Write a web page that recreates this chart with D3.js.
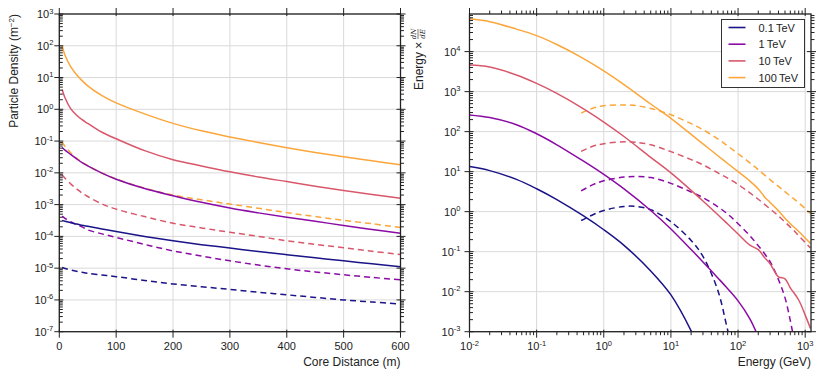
<!DOCTYPE html>
<html>
<head>
<meta charset="utf-8">
<script src="https://cdn.jsdelivr.net/npm/d3@7"></script>
<style>
  body { margin: 0; background: #fff; }
  svg { font-family: "Liberation Sans", Arial, sans-serif; }
  .grid line { stroke: #d9d9d9; stroke-width: 1; }
  .spine { stroke: #222; stroke-width: 1.3; fill: none; }
  .tick { stroke: #222; stroke-width: 1; }
</style>
</head>
<body>
<svg id="chart" width="822" height="379"></svg>
<script>
// series labels + colours
const energies = ["0.1\u2009TeV", "1\u2009TeV", "10\u2009TeV", "100\u2009TeV"];
const colors = ["#1b1388", "#8b0ba5", "#d9576b", "#fca63a"];

// ---- left panel: lateral distribution ----
const distance = [5, 10, 20, 30, 40, 50, 75, 100, 150, 200, 250, 300, 350, 400, 450, 500, 550, 600];

// solid lines
const densSolid01 = [3.2e-4, 3.0e-4, 2.7e-4, 2.45e-4, 2.25e-4, 2.07e-4, 1.72e-4, 1.42e-4, 1.0e-4, 7.3e-5, 5.5e-5, 4.3e-5, 3.35e-5, 2.65e-5, 2.12e-5, 1.7e-5, 1.37e-5, 1.1e-5];
const densSolid1 = [0.063, 0.052, 0.038, 0.028, 0.021, 0.0165, 0.0098, 0.0063, 0.0032, 0.0019, 0.00118, 0.00078, 0.00055, 0.0004, 0.0003, 0.00022, 0.000165, 0.000125];
const densSolid10 = [4.2, 2.3, 1.05, 0.66, 0.47, 0.36, 0.19, 0.118, 0.05, 0.026, 0.0165, 0.0108, 0.0074, 0.0053, 0.0038, 0.0028, 0.0021, 0.0016];
const densSolid100 = [100, 50, 22, 12.5, 8.0, 5.5, 2.7, 1.6, 0.72, 0.36, 0.21, 0.135, 0.09, 0.062, 0.044, 0.032, 0.024, 0.018];

// dashed lines
const densDash01 = [1.05e-5, 9.8e-6, 8.8e-6, 8.0e-6, 7.4e-6, 6.9e-6, 6.1e-6, 5.4e-6, 4.1e-6, 3.2e-6, 2.6e-6, 2.15e-6, 1.75e-6, 1.45e-6, 1.2e-6, 1.0e-6, 8.6e-7, 7.4e-7];
const densDash1 = [4.4e-4, 3.7e-4, 2.9e-4, 2.35e-4, 2.0e-4, 1.6e-4, 1.2e-4, 9.3e-5, 5.6e-5, 3.5e-5, 2.4e-5, 1.7e-5, 1.25e-5, 9.5e-6, 7.6e-6, 6.2e-6, 5.1e-6, 4.3e-6];
const densDash10 = [0.0085, 0.0068, 0.0045, 0.0032, 0.0023, 0.0018, 0.00105, 0.00072, 0.00042, 0.00026, 0.000185, 0.000135, 0.0001, 0.000073, 0.000056, 0.000044, 0.000034, 0.000027];
const densDash100 = [0.095, 0.068, 0.043, 0.029, 0.0215, 0.0168, 0.0099, 0.0064, 0.0033, 0.002, 0.00142, 0.00104, 0.00077, 0.00056, 0.00042, 0.00032, 0.00025, 0.00019];

// ---- right panel: energy spectra ----
const energySolid = [0.01, 0.02, 0.05, 0.1, 0.2, 0.5, 1, 2, 5, 10, 20, 30, 50, 70, 100, 150, 200, 250, 300, 400, 500, 600, 800, 1000, 1200];
const specSolid01 = [13.4, 10.6, 6.4, 3.74, 2.0, 0.78, 0.353, 0.144, 0.033, 0.0083, 0.00105, 0.00022, null, null, null, null, null, null, null, null, null, null, null, null, null];
const specSolid1 = [262, 225, 149, 88.5, 46.9, 18.2, 8.5, 3.7, 1.07, 0.37, 0.113, 0.0555, 0.0221, 0.0119, 0.0059, 0.0021, 0.00075, 0.00031, null, null, null, null, null, null, null];
const specSolid10 = [4600, 4100, 2600, 1600, 900, 370, 173, 75.5, 22.8, 9.3, 3.41, 1.85, 0.84, 0.49, 0.276, 0.145, 0.112, 0.07, 0.05, 0.0235, 0.021, 0.0125, 0.0062, 0.0026, 0.0012];
const specSolid100 = [66000, 56000, 36500, 25000, 15000, 6700, 3300, 1500, 490, 215, 85, 49.5, 25, 16, 10, 5.8, 3.7, 2.3, 1.7, 1.05, 0.68, 0.5, 0.32, 0.22, 0.16];

const energyDash = [0.46, 0.7, 1, 2, 3, 5, 10, 20, 30, 50, 70, 100, 150, 200, 300, 400, 500, 600, 700, 800, 1000, 1200];
const specDash01 = [0.6, 0.85, 1.07, 1.35, 1.35, 1.12, 0.56, 0.19, 0.076, 0.0107, 0.0011, 0.0001, null, null, null, null, null, null, null, null, null, null];
const specDash1 = [3.3, 4.8, 5.9, 7.3, 7.6, 7.1, 5.1, 3.1, 2.24, 1.32, 0.87, 0.5, 0.25, 0.141, 0.056, 0.02, 0.0071, 0.0019, 0.0005, null, null, null];
const specDash10 = [32, 43.6, 50, 56, 54.3, 46.8, 31.6, 20, 14.8, 9.3, 6.9, 4.8, 2.95, 2.04, 1.17, 0.78, 0.55, 0.41, 0.32, 0.25, 0.17, 0.123];
const specDash100 = [290, 390, 442, 465, 447, 380, 263, 158, 112, 66, 44, 28, 16.6, 11.2, 6.3, 4.27, 3.16, 2.45, 2.0, 1.66, 1.2, 0.89];

const svg = d3.select("#chart");
const plotTop = 14, plotBottom = 331.7;

// superscript helper for "10^n" style labels
function powLabel(sel, e) {
  sel.append("tspan").text("10");
  sel.append("tspan").attr("dy", -4.5).attr("font-size", 7.5).text(e < 0 ? "-" + (-e) : e);
}

function logMinors(lo, hi) {
  const out = [];
  for (let p = Math.floor(Math.log10(lo)); p <= Math.ceil(Math.log10(hi)); p++) {
    for (let k = 2; k <= 9; k++) {
      const v = k * Math.pow(10, p);
      if (v > lo && v < hi) out.push(v);
    }
  }
  return out;
}

function drawPanel(o) {
  const g = svg.append("g");
  const [x0, x1] = o.x.range();
  const clipId = "clip" + o.id;
  svg.append("clipPath").attr("id", clipId)
    .append("rect").attr("x", x0).attr("y", plotTop).attr("width", x1 - x0).attr("height", plotBottom - plotTop);

  // grid
  const grid = g.append("g").attr("class", "grid");
  grid.selectAll(".gx").data(o.xMajor).join("line")
    .attr("x1", d => o.x(d)).attr("x2", d => o.x(d)).attr("y1", plotTop).attr("y2", plotBottom);
  grid.selectAll(".gy").data(o.yMajor).join("line")
    .attr("y1", d => o.y(d)).attr("y2", d => o.y(d)).attr("x1", x0).attr("x2", x1);

  // lines
  const lines = g.append("g").attr("clip-path", `url(#${clipId})`);
  o.series.forEach(s => {
    const pts = s.xs.map((xv, i) => [xv, s.ys[i]]);
    const line = d3.line()
      .defined(d => d[1] != null)
      .x(d => o.x(d[0])).y(d => o.y(d[1]))
      .curve(d3.curveCatmullRom.alpha(0.5));
    lines.append("path")
      .attr("d", line(pts))
      .attr("fill", "none")
      .attr("stroke", s.color)
      .attr("stroke-width", 1.5)
      .attr("stroke-dasharray", s.dash ? "6,4" : null);
  });

  // spines
  g.append("rect").attr("class", "spine")
    .attr("x", x0).attr("y", plotTop).attr("width", x1 - x0).attr("height", plotBottom - plotTop);

  // ticks
  const t = g.append("g");
  o.xMajor.forEach(d => {
    const px = o.x(d);
    t.append("line").attr("class", "tick").attr("x1", px).attr("x2", px).attr("y1", plotTop - 6).attr("y2", plotTop + 2);
    t.append("line").attr("class", "tick").attr("x1", px).attr("x2", px).attr("y1", plotBottom - 2).attr("y2", plotBottom + 6);
  });
  o.xMinor.forEach(d => {
    const px = o.x(d);
    t.append("line").attr("class", "tick").attr("x1", px).attr("x2", px).attr("y1", plotTop - 3.5).attr("y2", plotTop);
    t.append("line").attr("class", "tick").attr("x1", px).attr("x2", px).attr("y1", plotBottom).attr("y2", plotBottom + 3.5);
  });
  o.yMajor.forEach(d => {
    const py = o.y(d);
    t.append("line").attr("class", "tick").attr("x1", x0 - 5).attr("x2", x0 + 4).attr("y1", py).attr("y2", py);
    t.append("line").attr("class", "tick").attr("x1", x1 - 4).attr("x2", x1 + 5).attr("y1", py).attr("y2", py);
  });
  o.yMinor.forEach(d => {
    const py = o.y(d);
    t.append("line").attr("class", "tick").attr("x1", x0).attr("x2", x0 + 3.5).attr("y1", py).attr("y2", py);
    t.append("line").attr("class", "tick").attr("x1", x1).attr("x2", x1 + 3.5).attr("y1", py).attr("y2", py);
  });

  // tick labels
  o.xMajor.forEach(d => {
    const tx = g.append("text").attr("x", o.x(d)).attr("y", 350)
      .attr("text-anchor", "middle").attr("font-size", 11).attr("fill", "#222");
    if (o.xLog) powLabel(tx, Math.round(Math.log10(d)));
    else tx.text(d);
  });
  o.yMajor.forEach(d => {
    const ty = g.append("text").attr("x", x0 - o.yLabelGap).attr("y", o.y(d) + 4)
      .attr("text-anchor", "end").attr("font-size", 11).attr("fill", "#222");
    powLabel(ty, Math.round(Math.log10(d)));
  });

  // x title
  g.append("text").attr("x", x1).attr("y", 366).attr("text-anchor", "end")
    .attr("font-size", 12).attr("fill", "#222").text(o.xTitle);
  return g;
}

// left scales
const xL = d3.scaleLinear().domain([0, 600]).range([59.3, 400.5]);
const yL = d3.scaleLog().domain([1e-7, 1e3]).range([plotBottom, plotTop]);
const solidL = [densSolid01, densSolid1, densSolid10, densSolid100];
const dashL = [densDash01, densDash1, densDash10, densDash100];

drawPanel({
  id: "L", x: xL, y: yL, xLog: false,
  xMajor: d3.range(0, 601, 100), xMinor: [],
  yMajor: d3.range(-7, 4).map(p => Math.pow(10, p)),
  yMinor: logMinors(1e-7, 1e3),
  yLabelGap: 6,
  xTitle: "Core Distance (m)",
  series: [
    ...dashL.map((ys, i) => ({ xs: distance, ys, color: colors[i], dash: true })),
    ...solidL.map((ys, i) => ({ xs: distance, ys, color: colors[i], dash: false }))
  ]
});

// right scales
const xR = d3.scaleLog().domain([0.01, 1220]).range([469.5, 811]);
const yR = d3.scaleLog().domain([1e-3, 8.7e4]).range([plotBottom, plotTop]);
const solidR = [specSolid01, specSolid1, specSolid10, specSolid100];
const dashR = [specDash01, specDash1, specDash10, specDash100];

drawPanel({
  id: "R", x: xR, y: yR, xLog: true,
  xMajor: d3.range(-2, 4).map(p => Math.pow(10, p)),
  xMinor: logMinors(0.01, 1220),
  yMajor: d3.range(-3, 5).map(p => Math.pow(10, p)),
  yMinor: logMinors(1e-3, 8.7e4),
  yLabelGap: 9,
  xTitle: "Energy (GeV)",
  series: [
    ...dashR.map((ys, i) => ({ xs: energyDash, ys, color: colors[i], dash: true })),
    ...solidR.map((ys, i) => ({ xs: energySolid, ys, color: colors[i], dash: false }))
  ]
});

// y titles
const yt = svg.append("text").attr("transform", "translate(18,14) rotate(-90)")
  .attr("text-anchor", "end").attr("font-size", 12).attr("fill", "#222");
yt.append("tspan").text("Particle Density (m");
yt.append("tspan").attr("dy", -4.5).attr("font-size", 8).text("\u22122");
yt.append("tspan").attr("dy", 4.5).text(")");

const yt2 = svg.append("g").attr("transform", "translate(423,90) rotate(-90)");
yt2.append("text").attr("x", 0).attr("y", 0).attr("font-size", 12).attr("fill", "#222").text("Energy \u00d7");
const fx = 56;
yt2.append("text").attr("x", fx).attr("y", -7).attr("text-anchor", "middle")
  .attr("font-family", "DejaVu Serif").attr("font-style", "italic").attr("font-size", 7).attr("fill", "#222").text("dN");
yt2.append("line").attr("x1", fx - 5).attr("x2", fx + 5).attr("y1", -5).attr("y2", -5)
  .attr("stroke", "#222").attr("stroke-width", 0.6);
yt2.append("text").attr("x", fx).attr("y", 1.5).attr("text-anchor", "middle")
  .attr("font-family", "DejaVu Serif").attr("font-style", "italic").attr("font-size", 7).attr("fill", "#222").text("dE");

// legend
const legend = svg.append("g").attr("transform", "translate(721.5,19.5)");
legend.append("rect").attr("width", 83).attr("height", 68)
  .attr("fill", "#fff").attr("stroke", "#333").attr("stroke-width", 1);
const items = legend.selectAll(".item").data(energies).join("g")
  .attr("transform", (d, i) => `translate(0,${8 + i * 16.7})`);
items.append("line").attr("x1", 7).attr("x2", 24).attr("y1", 0).attr("y2", 0)
  .attr("stroke", (d, i) => colors[i]).attr("stroke-width", 1.6);
items.append("text").attr("x", 37).attr("y", 4).attr("font-size", 11).attr("fill", "#222").text(d => d);
</script>
</body>
</html>
